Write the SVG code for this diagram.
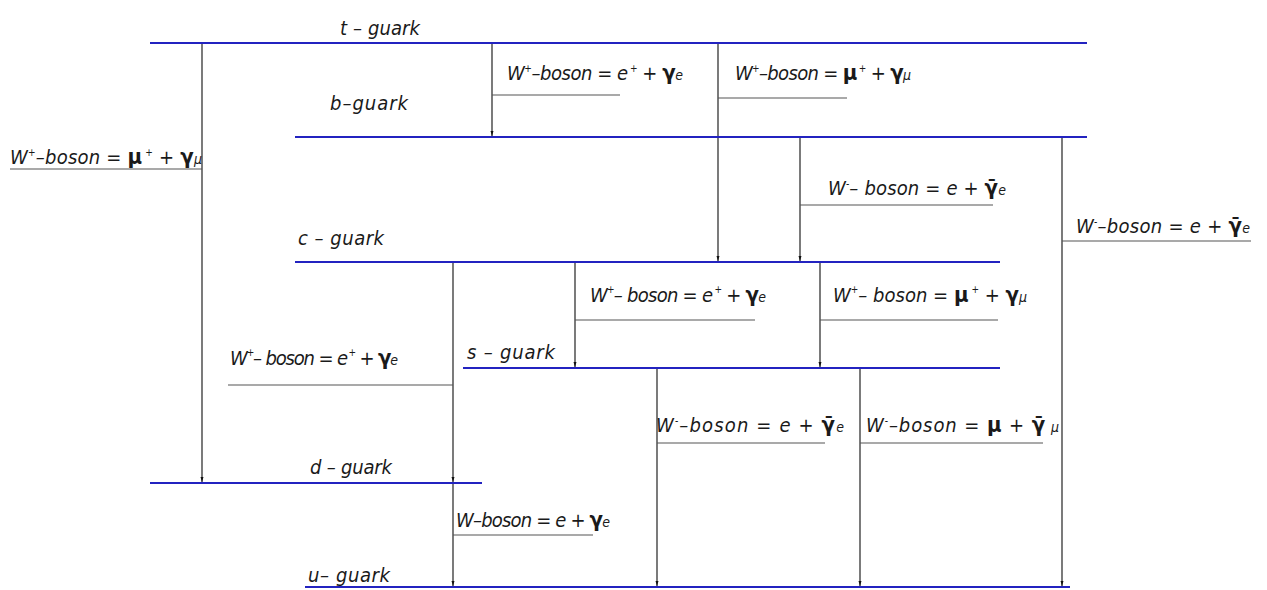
<svg xmlns="http://www.w3.org/2000/svg" width="1267" height="590" viewBox="0 0 1267 590">
<style>
.lvl{stroke:#2323c0;stroke-width:2;fill:none}
.arr{stroke:#222;stroke-width:1.2;fill:none;marker-end:url(#ah)}
.ul{stroke:#555;stroke-width:1.2;fill:none}
text{font-family:"DejaVu Sans Condensed","DejaVu Sans","Liberation Sans",sans-serif;font-stretch:condensed;font-style:italic;font-size:20px;fill:#1a1a1a}
.sup{font-size:10px}
.g{font-weight:bold;font-style:normal;font-size:22px}
.sub{font-size:14px}
</style>
<defs>
<marker id="ah" markerUnits="userSpaceOnUse" markerWidth="6" markerHeight="12" refX="5" refY="3" orient="auto" viewBox="0 0 6 6" >
<path d="M0,1.5 L5,3 L0,4.5 Z" fill="#111"/>
</marker>
</defs>
<g id="connectors">
<path class="arr" d="M202,44 V482"/>
<path class="arr" d="M492,44 V136"/>
<path class="arr" d="M718,44 V261"/>
<path class="arr" d="M800,138 V261"/>
<path class="arr" d="M1062,138 V586"/>
<path class="arr" d="M453,263 V482"/>
<path class="arr" d="M453,484 V586"/>
<path class="arr" d="M575,263 V367"/>
<path class="arr" d="M820,263 V367"/>
<path class="arr" d="M657,369 V586"/>
<path class="arr" d="M860,369 V586"/>
<path class="ul" d="M10,169 H202"/>
<path class="ul" d="M492,95 H620"/>
<path class="ul" d="M718,98 H847"/>
<path class="ul" d="M800,205 H993"/>
<path class="ul" d="M1062,241 H1251"/>
<path class="ul" d="M575,320 H755"/>
<path class="ul" d="M820,320 H998"/>
<path class="ul" d="M228,385 H453"/>
<path class="ul" d="M657,443 H825"/>
<path class="ul" d="M860,443 H1043"/>
<path class="ul" d="M453,535 H593"/>
</g>
<g id="t-quark"><path class="lvl" d="M150,43 H1087"/><text x="340" y="35" textLength="80">t – guark</text></g>
<g id="b-quark"><path class="lvl" d="M295,137 H1087"/><text x="330" y="110" textLength="78">b–guark</text></g>
<g id="c-quark"><path class="lvl" d="M295,262 H1000"/><text x="298" y="245" textLength="86">c – guark</text></g>
<g id="s-quark"><path class="lvl" d="M463,368 H1000"/><text x="467" y="359" textLength="88">s – guark</text></g>
<g id="d-quark"><path class="lvl" d="M150,483 H482"/><text x="310" y="474" textLength="82">d – guark</text></g>
<g id="u-quark"><path class="lvl" d="M305,587 H1070"/><text x="308" y="582" textLength="82">u– guark</text></g>
<g id="label-1"><text x="10" y="164" textLength="192">W<tspan class="sup" dy="-8">+</tspan><tspan dy="8">–boson = </tspan><tspan class="g">μ</tspan><tspan class="sup" dy="-8"> +</tspan><tspan dy="8"> + </tspan><tspan class="g">γ</tspan><tspan class="sub">μ</tspan></text></g>
<g id="label-2"><text x="507" y="80" textLength="176">W<tspan class="sup" dy="-8">+</tspan><tspan dy="8">–boson = e</tspan><tspan class="sup" dy="-8"> +</tspan><tspan dy="8"> + </tspan><tspan class="g">γ</tspan><tspan class="sub">e</tspan></text></g>
<g id="label-3"><text x="735" y="80" textLength="176">W<tspan class="sup" dy="-8">+</tspan><tspan dy="8">–boson = </tspan><tspan class="g">μ</tspan><tspan class="sup" dy="-8"> +</tspan><tspan dy="8"> + </tspan><tspan class="g">γ</tspan><tspan class="sub">μ</tspan></text></g>
<g id="label-4"><text x="828" y="195" textLength="178">W<tspan class="sup" dy="-8">-</tspan><tspan dy="8">– boson =  e + </tspan><tspan class="g">γ̄</tspan><tspan class="sub">e</tspan></text></g>
<g id="label-5"><text x="1076" y="233" textLength="174">W<tspan class="sup" dy="-8">-</tspan><tspan dy="8">–boson =  e + </tspan><tspan class="g">γ̄</tspan><tspan class="sub">e</tspan></text></g>
<g id="label-6"><text x="590" y="302" textLength="176">W<tspan class="sup" dy="-9">+</tspan><tspan dy="9">– boson = e</tspan><tspan class="sup" dy="-9"> +</tspan><tspan dy="9"> + </tspan><tspan class="g">γ</tspan><tspan class="sub">e</tspan></text></g>
<g id="label-7"><text x="833" y="302" textLength="194">W<tspan class="sup" dy="-9">+</tspan><tspan dy="9">– boson = </tspan><tspan class="g">μ</tspan><tspan class="sup" dy="-9"> +</tspan><tspan dy="9"> + </tspan><tspan class="g">γ</tspan><tspan class="sub">μ</tspan></text></g>
<g id="label-8"><text x="230" y="365" textLength="168">W<tspan class="sup" dy="-9">+</tspan><tspan dy="9">– boson = e</tspan><tspan class="sup" dy="-9"> +</tspan><tspan dy="9"> + </tspan><tspan class="g">γ</tspan><tspan class="sub">e</tspan></text></g>
<g id="label-9"><text x="656" y="432" textLength="188">W<tspan class="sup" dy="-8">-</tspan><tspan dy="8">–boson =  e + </tspan><tspan class="g">γ̄</tspan><tspan class="sub">e</tspan></text></g>
<g id="label-10"><text x="866" y="432" textLength="193">W<tspan class="sup" dy="-8">-</tspan><tspan dy="8">–boson = </tspan><tspan class="g">μ</tspan><tspan dy="0">  + </tspan><tspan class="g">γ̄</tspan><tspan class="sub"> μ</tspan></text></g>
<g id="label-11"><text x="456" y="527" textLength="154">W–boson = e + <tspan class="g">γ</tspan><tspan class="sub">e</tspan></text></g>
</svg>
